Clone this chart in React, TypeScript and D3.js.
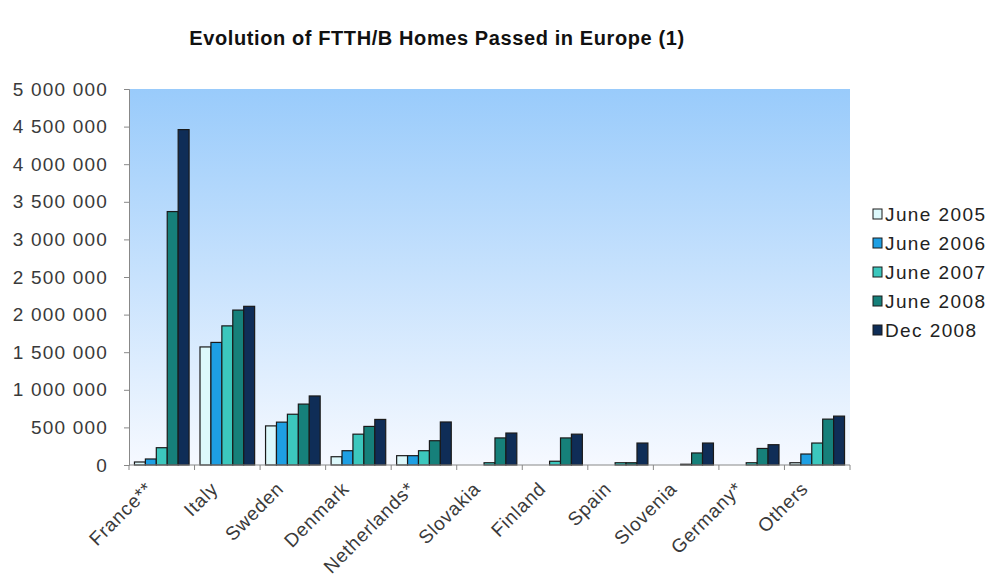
import React, { useRef, useEffect } from "react";
import * as d3 from "d3";

const countries = ["France**", "Italy", "Sweden", "Denmark", "Netherlands*", "Slovakia", "Finland", "Spain", "Slovenia", "Germany*", "Others"];
const seriesNames = ["June 2005", "June 2006", "June 2007", "June 2008", "Dec 2008"];
const seriesColors = ["#dcf8fb", "#1e9fe3", "#3cc7bd", "#16807a", "#0f2d57"];

const june2005 = [40000, 1570000, 520000, 110000, 124000, 0, 0, 0, 0, 0, 30000];
const june2006 = [80000, 1630000, 570000, 190000, 124000, 0, 0, 0, 0, 0, 146000];
const june2007 = [230000, 1850000, 675000, 410000, 190000, 30000, 50000, 30000, 10000, 30000, 292000];
const june2008 = [3370000, 2060000, 810000, 513000, 323000, 360000, 360000, 30000, 160000, 220000, 610000];
const dec2008 = [4460000, 2110000, 918000, 606000, 572000, 425000, 410000, 292000, 292000, 270000, 650000];

const yTicks = [0, 500000, 1000000, 1500000, 2000000, 2500000, 3000000, 3500000, 4000000, 4500000, 5000000];

const App = () => {
    const svgRef = useRef<SVGSVGElement>(null);

    useEffect(() => {
        if (!svgRef.current) return;
        const width = 993;
        const height = 580;
        const margin = { top: 89, right: 143, bottom: 115, left: 129 };
        const innerWidth = width - margin.left - margin.right;
        const innerHeight = height - margin.top - margin.bottom;
        const font = "'Liberation Sans', Arial, sans-serif";

        d3.select(svgRef.current).selectAll("*").remove();
        const svg = d3.select(svgRef.current).attr("width", width).attr("height", height);

        svg.append("rect").attr("width", width).attr("height", height).attr("fill", "#fff");

        // plot background gradient
        const grad = svg.append("defs").append("linearGradient")
            .attr("id", "plotBg").attr("x1", 0).attr("y1", 0).attr("x2", 0).attr("y2", 1);
        grad.append("stop").attr("offset", "0%").attr("stop-color", "#99cbfb");
        grad.append("stop").attr("offset", "100%").attr("stop-color", "#f6f9ff");

        svg.append("text")
            .attr("x", 437)
            .attr("y", 45)
            .attr("text-anchor", "middle")
            .style("font-family", font)
            .style("font-size", "20px")
            .style("font-weight", "bold")
            .style("letter-spacing", "0.6px")
            .style("fill", "#111")
            .text("Evolution of FTTH/B Homes Passed in Europe (1)");

        const chart = svg.append("g").attr("transform", `translate(${margin.left},${margin.top})`);

        chart.append("rect")
            .attr("width", innerWidth)
            .attr("height", innerHeight)
            .attr("fill", "url(#plotBg)");

        const x0 = d3.scaleBand().domain(countries).range([0, innerWidth]).paddingInner(0).paddingOuter(0);
        const groupW = x0.bandwidth() * 5 / 6;
        const x1 = d3.scaleBand().domain(seriesNames).range([0, groupW]).padding(0);
        const y = d3.scaleLinear().domain([0, 5000000]).range([innerHeight, 0]);

        const allSeries = [june2005, june2006, june2007, june2008, dec2008];
        const rows = countries.map((c, i) => ({
            country: c,
            values: seriesNames.map((s, j) => ({ series: s, idx: j, value: allSeries[j][i] })),
        }));

        // y axis
        const yAxis = chart.append("g")
            .call(d3.axisLeft(y).tickValues(yTicks).tickSize(5).tickPadding(16)
                .tickFormat((d) => d3.format(",")(d as number).replace(/,/g, " ")));
        yAxis.selectAll("text")
            .style("font-family", font)
            .style("font-size", "19px")
            .style("letter-spacing", "1.2px")
            .style("fill", "#3a3a3a");
        yAxis.selectAll("line").attr("stroke", "#888");
        yAxis.select(".domain").attr("stroke", "#888");

        const groups = chart.selectAll(".grp")
            .data(rows)
            .enter()
            .append("g")
            .attr("class", "grp")
            .attr("transform", (d) => `translate(${(x0(d.country) as number) + (x0.bandwidth() - groupW) / 2},0)`);

        groups.selectAll("rect")
            .data((d) => d.values.filter((v) => v.value > 0))
            .enter()
            .append("rect")
            .attr("x", (d) => x1(d.series) as number)
            .attr("y", (d) => y(d.value))
            .attr("width", x1.bandwidth())
            .attr("height", (d) => innerHeight - y(d.value))
            .attr("fill", (d) => seriesColors[d.idx])
            .attr("stroke", "#1a1a1a")
            .attr("stroke-width", 1.2);

        // x axis
        chart.append("line")
            .attr("x1", 0).attr("x2", innerWidth)
            .attr("y1", innerHeight).attr("y2", innerHeight)
            .attr("stroke", "#888");

        const bounds = countries.map((c) => x0(c) as number).concat([innerWidth]);
        chart.selectAll(".xtick")
            .data(bounds)
            .enter()
            .append("line")
            .attr("x1", (d) => d).attr("x2", (d) => d)
            .attr("y1", innerHeight).attr("y2", innerHeight + 5)
            .attr("stroke", "#888");

        chart.selectAll(".xlabel")
            .data(countries)
            .enter()
            .append("text")
            .attr("text-anchor", "end")
            .attr("transform", (d) => `translate(${(x0(d) as number) + x0.bandwidth() / 2 - 8},${innerHeight + 25}) rotate(-45)`)
            .style("font-family", font)
            .style("font-size", "19px")
            .style("letter-spacing", "0.8px")
            .style("fill", "#3a3a3a")
            .text((d) => d);

        // legend
        const legend = svg.append("g").attr("transform", "translate(873,214)");
        seriesNames.forEach((s, i) => {
            const row = legend.append("g").attr("transform", `translate(0,${i * 29})`);
            row.append("rect")
                .attr("x", 0).attr("y", -5)
                .attr("width", 9).attr("height", 10)
                .attr("fill", seriesColors[i])
                .attr("stroke", "#1a1a1a");
            row.append("text")
                .attr("x", 12).attr("y", 0)
                .attr("dy", "0.35em")
                .style("font-family", font)
                .style("font-size", "19px")
                .style("letter-spacing", "1.4px")
                .style("fill", "#222")
                .text(s);
        });
    }, []);

    return <svg ref={svgRef} style={{ position: "absolute", left: 0, top: 0 }} />;
};

export default App;
